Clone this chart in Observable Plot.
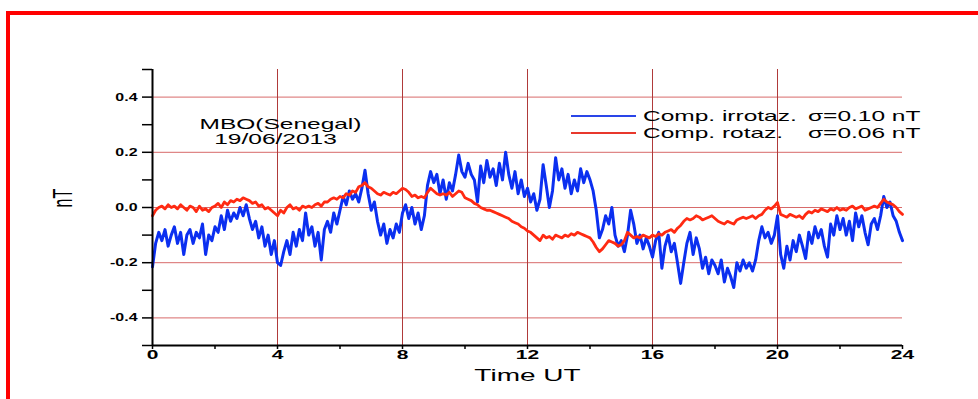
<!DOCTYPE html>
<html><head><meta charset="utf-8">
<script src="https://cdn.jsdelivr.net/npm/d3@7"></script>
<script src="https://cdn.jsdelivr.net/npm/@observablehq/plot@0.6"></script>
<style>body{margin:0;background:#fff}#chart{width:978px;height:399px;overflow:hidden}</style>
</head><body><div id="chart"></div>
<script>
// sampling step of the series (hours UT)
const timeStepH = 0.1;

// Comp. rotaz. (red), nT, every 0.1 h from 0 to 24
const redRotaz = [
 -0.03,-0.01,0.0,0.005,-0.005,0.01,0.0,0.005,-0.005,0.01,
 0.0,-0.01,0.005,0.0,-0.015,0.005,-0.01,-0.005,-0.015,0.0,
 0.005,0.015,0.0,0.02,0.01,0.025,0.02,0.03,0.025,0.035,
 0.03,0.025,0.015,0.02,0.005,0.01,-0.005,0.0,-0.01,-0.02,
 -0.03,-0.01,-0.02,0.0,0.01,-0.005,0.0,-0.01,0.005,0.0,
 0.005,0.0,0.01,0.015,0.005,0.02,0.02,0.03,0.035,0.03,
 0.04,0.035,0.05,0.045,0.06,0.055,0.075,0.08,0.09,0.075,
 0.07,0.06,0.05,0.045,0.055,0.05,0.045,0.055,0.05,0.06,
 0.07,0.065,0.055,0.04,0.045,0.035,0.04,0.035,0.055,0.07,
 0.06,0.05,0.045,0.05,0.045,0.055,0.04,0.05,0.06,0.055,
 0.035,0.03,0.025,0.015,0.01,0.0,-0.005,-0.01,-0.01,-0.015,
 -0.02,-0.025,-0.03,-0.035,-0.04,-0.05,-0.055,-0.06,-0.07,-0.075,
 -0.085,-0.09,-0.1,-0.11,-0.12,-0.1,-0.11,-0.105,-0.115,-0.1,
 -0.105,-0.11,-0.1,-0.105,-0.095,-0.1,-0.09,-0.095,-0.1,-0.105,
 -0.11,-0.125,-0.145,-0.16,-0.15,-0.135,-0.12,-0.125,-0.13,-0.14,
 -0.135,-0.12,-0.09,-0.1,-0.11,-0.105,-0.11,-0.1,-0.105,-0.11,
 -0.1,-0.105,-0.095,-0.1,-0.09,-0.085,-0.08,-0.09,-0.075,-0.065,
 -0.05,-0.04,-0.045,-0.04,-0.03,-0.035,-0.045,-0.04,-0.035,-0.03,
 -0.04,-0.05,-0.055,-0.06,-0.05,-0.055,-0.06,-0.045,-0.04,-0.035,
 -0.04,-0.035,-0.03,-0.04,-0.03,-0.025,-0.01,0.0,-0.005,0.005,
 0.018,-0.025,-0.03,-0.035,-0.025,-0.03,-0.035,-0.03,-0.04,-0.025,
 -0.015,-0.02,-0.01,-0.015,-0.005,-0.01,-0.015,-0.005,-0.01,0.0,
 -0.01,-0.005,-0.01,0.0,0.005,-0.005,0.0,0.005,-0.01,-0.005,
 0.0,0.005,0.0,0.015,0.03,0.02,0.015,0.01,0.0,-0.015,
 -0.025
];

// Comp. irrotaz. (blue), nT, every 0.1 h from 0 to 24
const blueIrrotaz = [
 -0.215,-0.13,-0.09,-0.12,-0.08,-0.14,-0.1,-0.07,-0.13,-0.09,
 -0.17,-0.1,-0.08,-0.13,-0.09,-0.11,-0.06,-0.17,-0.1,-0.12,
 -0.07,-0.09,-0.03,-0.08,-0.01,-0.05,-0.02,-0.04,0.0,-0.03,
 0.01,-0.04,-0.08,-0.05,-0.11,-0.07,-0.14,-0.1,-0.17,-0.12,
 -0.2,-0.21,-0.16,-0.12,-0.17,-0.09,-0.14,-0.08,-0.12,-0.02,
 -0.1,-0.07,-0.14,-0.09,-0.19,-0.08,-0.05,-0.09,-0.02,-0.06,
 -0.01,0.04,0.01,0.06,0.03,0.05,0.02,0.07,0.135,0.05,
 -0.01,0.02,-0.05,-0.1,-0.06,-0.13,-0.08,-0.11,-0.06,-0.09,
 -0.02,0.01,-0.04,0.0,-0.06,-0.02,-0.08,-0.03,0.08,0.13,
 0.09,0.12,0.05,0.1,0.03,0.09,0.06,0.12,0.19,0.13,
 0.11,0.16,0.12,0.1,0.02,0.15,0.09,0.17,0.11,0.14,
 0.08,0.16,0.1,0.2,0.12,0.07,0.13,0.05,0.1,0.04,
 0.07,0.02,0.05,-0.01,0.03,0.155,0.08,0.0,0.06,0.18,
 0.1,0.14,0.07,0.12,0.05,0.1,0.06,0.14,0.09,0.13,
 0.1,0.06,-0.01,-0.11,-0.08,-0.03,-0.06,0.0,-0.1,-0.14,
 -0.12,-0.16,-0.1,-0.01,-0.06,-0.13,-0.1,-0.15,-0.11,-0.14,
 -0.18,-0.12,-0.09,-0.22,-0.14,-0.1,-0.16,-0.13,-0.2,-0.275,
 -0.2,-0.13,-0.09,-0.17,-0.11,-0.15,-0.22,-0.18,-0.24,-0.19,
 -0.21,-0.24,-0.19,-0.27,-0.22,-0.25,-0.29,-0.2,-0.23,-0.19,
 -0.22,-0.2,-0.23,-0.19,-0.12,-0.07,-0.11,-0.09,-0.13,-0.1,
 -0.03,-0.17,-0.22,-0.14,-0.19,-0.12,-0.16,-0.1,-0.14,-0.185,
 -0.09,-0.13,-0.07,-0.11,-0.08,-0.14,-0.18,-0.06,-0.1,-0.03,
 -0.08,-0.04,-0.1,-0.05,-0.12,-0.02,-0.07,-0.03,-0.09,-0.135,
 -0.06,-0.04,-0.08,-0.03,0.04,0.0,0.02,-0.03,-0.05,-0.09,
 -0.12
];

const xDomain = [0, 24];
const yDomain = [-0.5, 0.5];
const xMajorTicks = [0, 4, 8, 12, 16, 20, 24];
const xMinorTicks = [2, 6, 10, 14, 18, 22];
const yMajorTicks = [-0.4, -0.2, 0, 0.2, 0.4];
const yMinorTicks = [-0.5, -0.3, -0.1, 0.1, 0.3, 0.5];
const xGrid = [4, 8, 12, 16, 20];
const yGrid = [-0.4, -0.2, 0, 0.2, 0.4];
const xLabel = "Time UT";
const yLabel = "nT";
const stationLabel = ["MBO(Senegal)", "19/06/2013"];
const legendNames = ["Comp. irrotaz.", "Comp. rotaz."];
const legendSigmas = ["\u03c3=0.10 nT", "\u03c3=0.06 nT"];
const seriesColors = ["#0b2ff0", "#ff2a12"];
const legendColors = ["#2a45e8", "#e8382c"];

const blueData = blueIrrotaz.map((v, i) => ({t: i * timeStepH, v}));
const redData = redRotaz.map((v, i) => ({t: i * timeStepH, v}));

const FONT = "'Liberation Sans', Arial, Helvetica, sans-serif";
const STRETCH = 1.75;
const Y_TICK_STRETCH = 1.45;

const plot = Plot.plot({
  width: 978,
  height: 399,
  marginLeft: 152,
  marginRight: 76,
  marginTop: 69,
  marginBottom: 54,
  style: {fontFamily: FONT, background: "white", color: "black"},
  x: {domain: xDomain},
  y: {domain: yDomain},
  marks: [
    Plot.ruleY(yGrid, {stroke: "#d86a6a", strokeWidth: 1}),
    Plot.ruleX(xGrid, {stroke: "#b03a3a", strokeWidth: 1}),
    Plot.line(blueData, {x: "t", y: "v", stroke: seriesColors[0], strokeWidth: 3}),
    Plot.line(redData, {x: "t", y: "v", stroke: seriesColors[1], strokeWidth: 2.8}),
    Plot.ruleX([xDomain[0]], {stroke: "black", strokeWidth: 2}),
    Plot.ruleY([yDomain[0]], {stroke: "black", strokeWidth: 2}),
    Plot.axisX({ticks: xMajorTicks, tickSize: 4, tickPadding: 1, strokeWidth: 1.5,
      tickFormat: d => String(d), fontSize: 12, fontWeight: "bold", label: null}),
    Plot.axisX({ticks: xMinorTicks, tickSize: 4, strokeWidth: 1.5, tickFormat: () => "", label: null}),
    Plot.axisY({ticks: yMajorTicks, tickSize: 10, tickPadding: 5, strokeWidth: 1.5,
      tickFormat: d => d.toFixed(1), fontSize: 11, fontWeight: "bold", label: null,
      ariaLabel: "y-major-ticks"}),
    Plot.axisY({ticks: yMinorTicks, tickSize: 10, strokeWidth: 1.5, tickFormat: () => "", label: null}),
    Plot.text([xLabel], {text: d => d, frameAnchor: "bottom", dy: 35, fontSize: 16}),
    Plot.text([yLabel], {text: d => d, frameAnchor: "left", dx: -89, rotate: -90, fontSize: 16}),
    Plot.text([stationLabel[0]], {text: d => d, frameAnchor: "top-left", dx: 128, dy: 50, textAnchor: "middle", fontSize: 14}),
    Plot.text([stationLabel[1]], {text: d => d, frameAnchor: "top-left", dx: 123, dy: 65, textAnchor: "middle", fontSize: 14})
  ]
});

// stretch all texts horizontally like the reference
d3.select(plot).selectAll("text").each(function () {
  const el = this;
  const isYTick = /^-?\d\.\d$/.test(el.textContent.trim()) && el.getAttribute("text-anchor") !== "middle"
    && !(el.closest("g") && el.closest("g").getAttribute("text-anchor") === "middle");
  const s = isYTick ? Y_TICK_STRETCH : STRETCH;
  const t = el.getAttribute("transform");
  if (t && /^translate\(/.test(t)) {
    el.setAttribute("transform", t.replace(/^(translate\([^)]*\))/, `$1 scale(${s},1)`));
  } else {
    const x = +el.getAttribute("x") || 0, y = +el.getAttribute("y") || 0;
    el.removeAttribute("x"); el.removeAttribute("y");
    el.setAttribute("transform", `translate(${x},${y}) scale(${s},1)` + (t ? " " + t : ""));
  }
});

// legend inside the plot (top right)
const svg = d3.select(plot);
const lg = svg.append("g").attr("font-family", FONT).attr("font-size", 14).attr("text-anchor", "start");
legendNames.forEach((name, i) => {
  const y = 116 + i * 17;
  lg.append("line").attr("x1", 571).attr("x2", 636).attr("y1", y).attr("y2", y)
    .attr("stroke", legendColors[i]).attr("stroke-width", 2);
  lg.append("text").attr("transform", `translate(643,${y + 5}) scale(${STRETCH},1)`).text(name);
  lg.append("text").attr("transform", `translate(808,${y + 5}) scale(${STRETCH},1)`).text(legendSigmas[i]);
});

// red outer frame
svg.append("rect").attr("x", 8).attr("y", 13).attr("width", 1100).attr("height", 500)
  .attr("fill", "none").attr("stroke", "#ff0000").attr("stroke-width", 4);
svg.style("overflow", "hidden");

document.getElementById("chart").appendChild(plot);
</script>
</body></html>
